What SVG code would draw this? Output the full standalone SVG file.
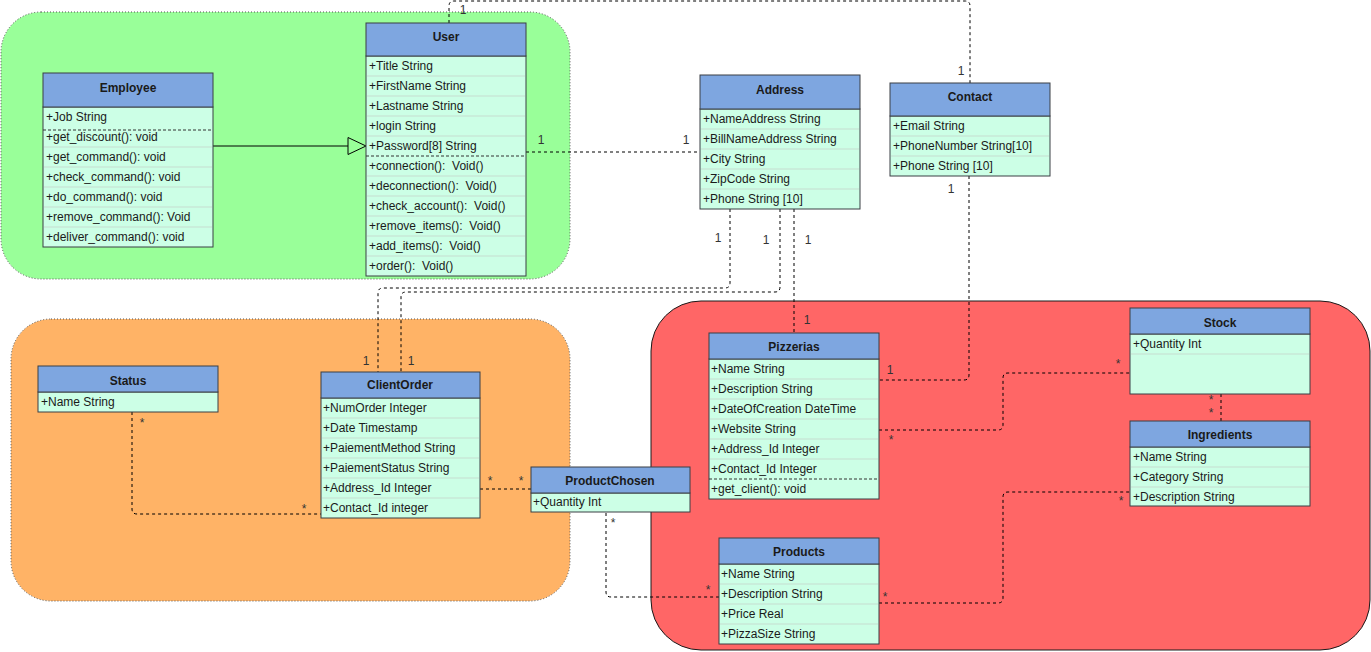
<svg xmlns="http://www.w3.org/2000/svg" width="1371" height="652" viewBox="0 0 1371 652">
  <style>
    .zone { stroke-width: 1; }
    .zone-dotted { stroke: #555; stroke-dasharray: 1 2; }
    .hdr { fill: #7EA6E0; stroke: #3a3f44; stroke-width: 1; }
    .body { fill: #CCFFE6; stroke: #3a3f44; stroke-width: 1; }
    .row { stroke: #c6ddd0; stroke-width: 1; }
    .sep { stroke: #333; stroke-width: 1; stroke-dasharray: 3 2; }
    .title { font-family: "Liberation Sans", Arial, sans-serif; font-size: 12px; font-weight: bold; fill: #1a1a1a; text-anchor: middle; }
    .attr { font-family: "Liberation Sans", Arial, sans-serif; font-size: 12px; fill: #1a1a1a; }
    .link { fill: none; stroke: #000; stroke-width: 1; stroke-dasharray: 3 3; }
    .mult { font-family: "Liberation Sans", Arial, sans-serif; font-size: 12px; fill: #333; text-anchor: middle; }
  </style>

  <!-- package backgrounds -->
  <g id="zones">
    <rect class="zone zone-dotted" x="1" y="12" width="569" height="267" rx="40" fill="#99FF99"/>
    <rect class="zone zone-dotted" x="11" y="319" width="559" height="282" rx="40" fill="#FFB366"/>
    <rect class="zone" x="651" y="301" width="719" height="349" rx="50" fill="#FF6666" stroke="#1a1a1a"/>
  </g>

  <!-- connectors -->
  <g id="connectors">
    <!-- inheritance Employee -> User -->
    <path d="M213,146 H348" fill="none" stroke="#000" stroke-width="1"/>
    <polygon points="348,137.5 366,146 348,154.5" fill="none" stroke="#000" stroke-width="1"/>

    <path class="link" d="M449,23 V6 Q449,1 454,1 H965 Q970,1 970,6 V83"/>
    <path class="link" d="M526,152 H700"/>
    <path class="link" d="M794,209 V333"/>
    <path class="link" d="M969,176 V375 Q969,380 964,380 H879"/>
    <path class="link" d="M730,209 V283 Q730,288 725,288 H383 Q378,288 378,293 V372"/>
    <path class="link" d="M780,209 V287 Q780,292 775,292 H406 Q401,292 401,297 V372"/>
    <path class="link" d="M132,412 V509 Q132,514 137,514 H321"/>
    <path class="link" d="M480,489 H531"/>
    <path class="link" d="M606,513 V592 Q606,597 611,597 H719"/>
    <path class="link" d="M879,430 H998 Q1003,430 1003,425 V378 Q1003,373 1008,373 H1130"/>
    <path class="link" d="M879,603 H998 Q1003,603 1003,598 V497 Q1003,492 1008,492 H1130"/>
    <path class="link" d="M1221,394 V421"/>

    <!-- multiplicities -->
    <text class="mult" x="463" y="14">1</text>
    <text class="mult" x="961" y="75">1</text>
    <text class="mult" x="541" y="144">1</text>
    <text class="mult" x="686" y="144">1</text>
    <text class="mult" x="808" y="244">1</text>
    <text class="mult" x="807" y="324">1</text>
    <text class="mult" x="951" y="193">1</text>
    <text class="mult" x="890" y="374">1</text>
    <text class="mult" x="718" y="242">1</text>
    <text class="mult" x="766" y="244">1</text>
    <text class="mult" x="366" y="365">1</text>
    <text class="mult" x="411" y="365">1</text>
    <text class="mult" x="142" y="427">*</text>
    <text class="mult" x="304" y="513">*</text>
    <text class="mult" x="490" y="485">*</text>
    <text class="mult" x="521" y="485">*</text>
    <text class="mult" x="613" y="527">*</text>
    <text class="mult" x="708" y="594">*</text>
    <text class="mult" x="891" y="444">*</text>
    <text class="mult" x="1118" y="368">*</text>
    <text class="mult" x="885" y="601">*</text>
    <text class="mult" x="1121" y="505">*</text>
    <text class="mult" x="1211" y="404">*</text>
    <text class="mult" x="1211" y="417">*</text>
  </g>

  <!-- Employee -->
  <g id="employee">
    <rect class="body" x="43" y="107" width="170" height="140"/>
    <rect class="hdr" x="43" y="73" width="170" height="34"/>
    <text class="title" x="128" y="92">Employee</text>
    <line class="row" x1="44" y1="147" x2="212" y2="147"/>
    <line class="row" x1="44" y1="167" x2="212" y2="167"/>
    <line class="row" x1="44" y1="187" x2="212" y2="187"/>
    <line class="row" x1="44" y1="207" x2="212" y2="207"/>
    <line class="row" x1="44" y1="227" x2="212" y2="227"/>
    <line class="sep" x1="43" y1="130" x2="213" y2="130"/>
    <text class="attr" x="46" y="121">+Job String</text>
    <text class="attr" x="46" y="141">+get_discount(): void</text>
    <text class="attr" x="46" y="161">+get_command(): void</text>
    <text class="attr" x="46" y="181">+check_command(): void</text>
    <text class="attr" x="46" y="201">+do_command(): void</text>
    <text class="attr" x="46" y="221">+remove_command(): Void</text>
    <text class="attr" x="46" y="241">+deliver_command(): void</text>
  </g>

  <!-- User -->
  <g id="user">
    <rect class="body" x="366" y="56" width="160" height="220"/>
    <rect class="hdr" x="366" y="23" width="160" height="33"/>
    <text class="title" x="446" y="41">User</text>
    <line class="row" x1="367" y1="76" x2="525" y2="76"/>
    <line class="row" x1="367" y1="96" x2="525" y2="96"/>
    <line class="row" x1="367" y1="116" x2="525" y2="116"/>
    <line class="row" x1="367" y1="136" x2="525" y2="136"/>
    <line class="row" x1="367" y1="176" x2="525" y2="176"/>
    <line class="row" x1="367" y1="196" x2="525" y2="196"/>
    <line class="row" x1="367" y1="216" x2="525" y2="216"/>
    <line class="row" x1="367" y1="236" x2="525" y2="236"/>
    <line class="row" x1="367" y1="256" x2="525" y2="256"/>
    <line class="sep" x1="366" y1="156" x2="526" y2="156"/>
    <text class="attr" x="369" y="70">+Title String</text>
    <text class="attr" x="369" y="90">+FirstName String</text>
    <text class="attr" x="369" y="110">+Lastname String</text>
    <text class="attr" x="369" y="130">+login String</text>
    <text class="attr" x="369" y="150">+Password[8] String</text>
    <text class="attr" x="369" y="170" xml:space="preserve">+connection():  Void()</text>
    <text class="attr" x="369" y="190" xml:space="preserve">+deconnection():  Void()</text>
    <text class="attr" x="369" y="210" xml:space="preserve">+check_account():  Void()</text>
    <text class="attr" x="369" y="230" xml:space="preserve">+remove_items():  Void()</text>
    <text class="attr" x="369" y="250" xml:space="preserve">+add_items():  Void()</text>
    <text class="attr" x="369" y="270" xml:space="preserve">+order():  Void()</text>
  </g>

  <!-- Address -->
  <g id="address">
    <rect class="body" x="700" y="109" width="160" height="100"/>
    <rect class="hdr" x="700" y="75" width="160" height="34"/>
    <text class="title" x="780" y="94">Address</text>
    <line class="row" x1="701" y1="129" x2="859" y2="129"/>
    <line class="row" x1="701" y1="149" x2="859" y2="149"/>
    <line class="row" x1="701" y1="169" x2="859" y2="169"/>
    <line class="row" x1="701" y1="189" x2="859" y2="189"/>
    <text class="attr" x="703" y="123">+NameAddress String</text>
    <text class="attr" x="703" y="143">+BillNameAddress String</text>
    <text class="attr" x="703" y="163">+City String</text>
    <text class="attr" x="703" y="183">+ZipCode String</text>
    <text class="attr" x="703" y="203">+Phone String [10]</text>
  </g>

  <!-- Contact -->
  <g id="contact">
    <rect class="body" x="890" y="116" width="160" height="60"/>
    <rect class="hdr" x="890" y="83" width="160" height="33"/>
    <text class="title" x="970" y="101">Contact</text>
    <line class="row" x1="891" y1="136" x2="1049" y2="136"/>
    <line class="row" x1="891" y1="156" x2="1049" y2="156"/>
    <text class="attr" x="893" y="130">+Email String</text>
    <text class="attr" x="893" y="150">+PhoneNumber String[10]</text>
    <text class="attr" x="893" y="170">+Phone String [10]</text>
  </g>

  <!-- Status -->
  <g id="status">
    <rect class="body" x="38" y="392" width="180" height="20"/>
    <rect class="hdr" x="38" y="366" width="180" height="26"/>
    <text class="title" x="128" y="385">Status</text>
    <text class="attr" x="41" y="406">+Name String</text>
  </g>

  <!-- ClientOrder -->
  <g id="clientorder">
    <rect class="body" x="321" y="398" width="159" height="120"/>
    <rect class="hdr" x="321" y="372" width="159" height="26"/>
    <text class="title" x="400" y="389">ClientOrder</text>
    <line class="row" x1="322" y1="418" x2="479" y2="418"/>
    <line class="row" x1="322" y1="438" x2="479" y2="438"/>
    <line class="row" x1="322" y1="458" x2="479" y2="458"/>
    <line class="row" x1="322" y1="478" x2="479" y2="478"/>
    <line class="row" x1="322" y1="498" x2="479" y2="498"/>
    <text class="attr" x="323" y="412">+NumOrder Integer</text>
    <text class="attr" x="323" y="432">+Date Timestamp</text>
    <text class="attr" x="323" y="452">+PaiementMethod String</text>
    <text class="attr" x="323" y="472">+PaiementStatus String</text>
    <text class="attr" x="323" y="492">+Address_Id Integer</text>
    <text class="attr" x="323" y="512">+Contact_Id integer</text>
  </g>

  <!-- ProductChosen -->
  <g id="productchosen">
    <rect class="body" x="531" y="493" width="159" height="19"/>
    <rect class="hdr" x="531" y="467" width="159" height="26"/>
    <text class="title" x="610" y="485">ProductChosen</text>
    <text class="attr" x="533" y="506">+Quantity Int</text>
  </g>

  <!-- Pizzerias -->
  <g id="pizzerias">
    <rect class="body" x="709" y="359" width="170" height="140"/>
    <rect class="hdr" x="709" y="333" width="170" height="26"/>
    <text class="title" x="794" y="351">Pizzerias</text>
    <line class="row" x1="710" y1="379" x2="878" y2="379"/>
    <line class="row" x1="710" y1="399" x2="878" y2="399"/>
    <line class="row" x1="710" y1="419" x2="878" y2="419"/>
    <line class="row" x1="710" y1="439" x2="878" y2="439"/>
    <line class="row" x1="710" y1="459" x2="878" y2="459"/>
    <line class="sep" x1="709" y1="479" x2="879" y2="479"/>
    <text class="attr" x="711" y="373">+Name String</text>
    <text class="attr" x="711" y="393">+Description String</text>
    <text class="attr" x="711" y="413">+DateOfCreation DateTime</text>
    <text class="attr" x="711" y="433">+Website String</text>
    <text class="attr" x="711" y="453">+Address_Id Integer</text>
    <text class="attr" x="711" y="473">+Contact_Id Integer</text>
    <text class="attr" x="711" y="493">+get_client(): void</text>
  </g>

  <!-- Products -->
  <g id="products">
    <rect class="body" x="719" y="564" width="160" height="80"/>
    <rect class="hdr" x="719" y="538" width="160" height="26"/>
    <text class="title" x="799" y="556">Products</text>
    <line class="row" x1="720" y1="584" x2="878" y2="584"/>
    <line class="row" x1="720" y1="604" x2="878" y2="604"/>
    <line class="row" x1="720" y1="624" x2="878" y2="624"/>
    <text class="attr" x="721" y="578">+Name String</text>
    <text class="attr" x="721" y="598">+Description String</text>
    <text class="attr" x="721" y="618">+Price Real</text>
    <text class="attr" x="721" y="638">+PizzaSize String</text>
  </g>

  <!-- Stock -->
  <g id="stock">
    <rect class="body" x="1130" y="334" width="180" height="60"/>
    <rect class="hdr" x="1130" y="308" width="180" height="26"/>
    <text class="title" x="1220" y="327">Stock</text>
    <line class="row" x1="1131" y1="354" x2="1309" y2="354"/>
    <text class="attr" x="1133" y="348">+Quantity Int</text>
  </g>

  <!-- Ingredients -->
  <g id="ingredients">
    <rect class="body" x="1130" y="447" width="180" height="59"/>
    <rect class="hdr" x="1130" y="421" width="180" height="26"/>
    <text class="title" x="1220" y="439">Ingredients</text>
    <line class="row" x1="1131" y1="467" x2="1309" y2="467"/>
    <line class="row" x1="1131" y1="487" x2="1309" y2="487"/>
    <text class="attr" x="1133" y="461">+Name String</text>
    <text class="attr" x="1133" y="481">+Category String</text>
    <text class="attr" x="1133" y="501">+Description String</text>
  </g>
</svg>
